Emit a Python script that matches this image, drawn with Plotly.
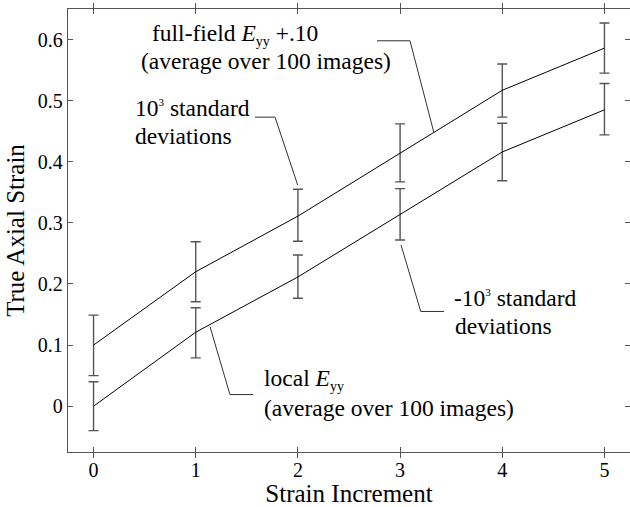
import plotly.graph_objects as go

# ---- data ----
increments = [0, 1, 2, 3, 4, 5]
full_field = [0.100, 0.220, 0.311, 0.414, 0.517, 0.586]
full_err_plus = [0.049, 0.049, 0.044, 0.048, 0.043, 0.041]
full_err_minus = [0.050, 0.049, 0.041, 0.047, 0.044, 0.041]
local = [0.000, 0.121, 0.2115, 0.314, 0.416, 0.485]
local_err_plus = [0.040, 0.040, 0.036, 0.042, 0.047, 0.043]
local_err_minus = [0.040, 0.042, 0.035, 0.042, 0.047, 0.041]

x_ticks = [0, 1, 2, 3, 4, 5]
y_ticks = [0, 0.1, 0.2, 0.3, 0.4, 0.5, 0.6]
y_tick_text = ["0", "0.1", "0.2", "0.3", "0.4", "0.5", "0.6"]

# leader lines (data coordinates)
leader_full_x = [2.774, 3.097, 3.332]
leader_full_y = [0.598, 0.598, 0.447]
leader_sdp_x = [1.580, 1.776, 1.998]
leader_sdp_y = [0.473, 0.473, 0.362]
leader_sdm_x = [3.009, 3.202, 3.430]
leader_sdm_y = [0.264, 0.155, 0.155]
leader_local_x = [1.140, 1.335, 1.561]
leader_local_y = [0.130, 0.019, 0.019]

FONT = "Liberation Serif"
ERR_COLOR = "#555555"
AX_COLOR = "#555555"

fig = go.Figure()

for yv, ep, em in [(full_field, full_err_plus, full_err_minus),
                   (local, local_err_plus, local_err_minus)]:
    fig.add_trace(go.Scatter(
        x=increments, y=yv, mode="lines",
        line=dict(color="black", width=1),
        error_y=dict(type="data", symmetric=False, array=ep, arrayminus=em,
                     color=ERR_COLOR, thickness=1.4, width=5),
        showlegend=False, hoverinfo="skip"))

for lx, ly in [(leader_full_x, leader_full_y), (leader_sdp_x, leader_sdp_y),
               (leader_sdm_x, leader_sdm_y), (leader_local_x, leader_local_y)]:
    fig.add_trace(go.Scatter(
        x=lx, y=ly, mode="lines", line=dict(color="#333333", width=1),
        showlegend=False, hoverinfo="skip"))

# invisible trace to activate the right-hand tick axis
fig.add_trace(go.Scatter(x=[increments[0]], y=[local[0]], yaxis="y2",
                         mode="markers", marker=dict(opacity=0),
                         showlegend=False, hoverinfo="skip"))

SUB = '<sub><span style="font-size:14px">yy</span></sub>'
SUP = '<sup><span style="font-size:11px">3</span></sup>'
ann_font = dict(family=FONT, size=23.5, color="black")
labels = [
    (0.5525, 0.608, "full-field <i>E</i>" + SUB + " +.10"),
    (0.445, 0.565, "(average over 100 images)"),
    (0.386, 0.488, "10" + SUP + " standard"),
    (0.386, 0.442, "deviations"),
    (3.505, 0.177, "-10" + SUP + " standard"),
    (3.518, 0.131, "deviations"),
    (1.649, 0.043, "local <i>E</i>" + SUB),
    (1.649, -0.003, "(average over 100 images)"),
]
for ax_, ay_, txt in labels:
    fig.add_annotation(x=ax_, y=ay_, xref="x", yref="y", text=txt,
                       showarrow=False, xanchor="left", yanchor="middle",
                       font=ann_font)

tick_common = dict(
    ticks="inside", ticklen=5, tickcolor=AX_COLOR, tickwidth=1.2,
    showgrid=False, zeroline=False,
    tickfont=dict(family=FONT, size=20, color="black"),
)

fig.update_layout(
    width=630, height=507,
    margin=dict(l=68, r=0, t=9, b=55),
    paper_bgcolor="white", plot_bgcolor="white",
    font=dict(family=FONT, color="black"),
    xaxis=dict(range=[-0.25, 5.25], tickvals=x_ticks,
               showline=True, linecolor=AX_COLOR, linewidth=1.3,
               mirror="allticks",
               title=dict(text="Strain Increment", standoff=4,
                          font=dict(family=FONT, size=25, color="black")),
               **tick_common),
    yaxis=dict(range=[-0.075, 0.65], tickvals=y_ticks, ticktext=y_tick_text,
               showline=True, linecolor=AX_COLOR, linewidth=1.3, mirror=False,
               title=dict(text="True Axial Strain", standoff=6,
                          font=dict(family=FONT, size=25, color="black")),
               **tick_common),
    yaxis2=dict(range=[-0.075, 0.65], tickvals=y_ticks, overlaying="y",
                side="right", showline=False, showticklabels=False,
                **tick_common),
)

fig.write_html("out.html")
